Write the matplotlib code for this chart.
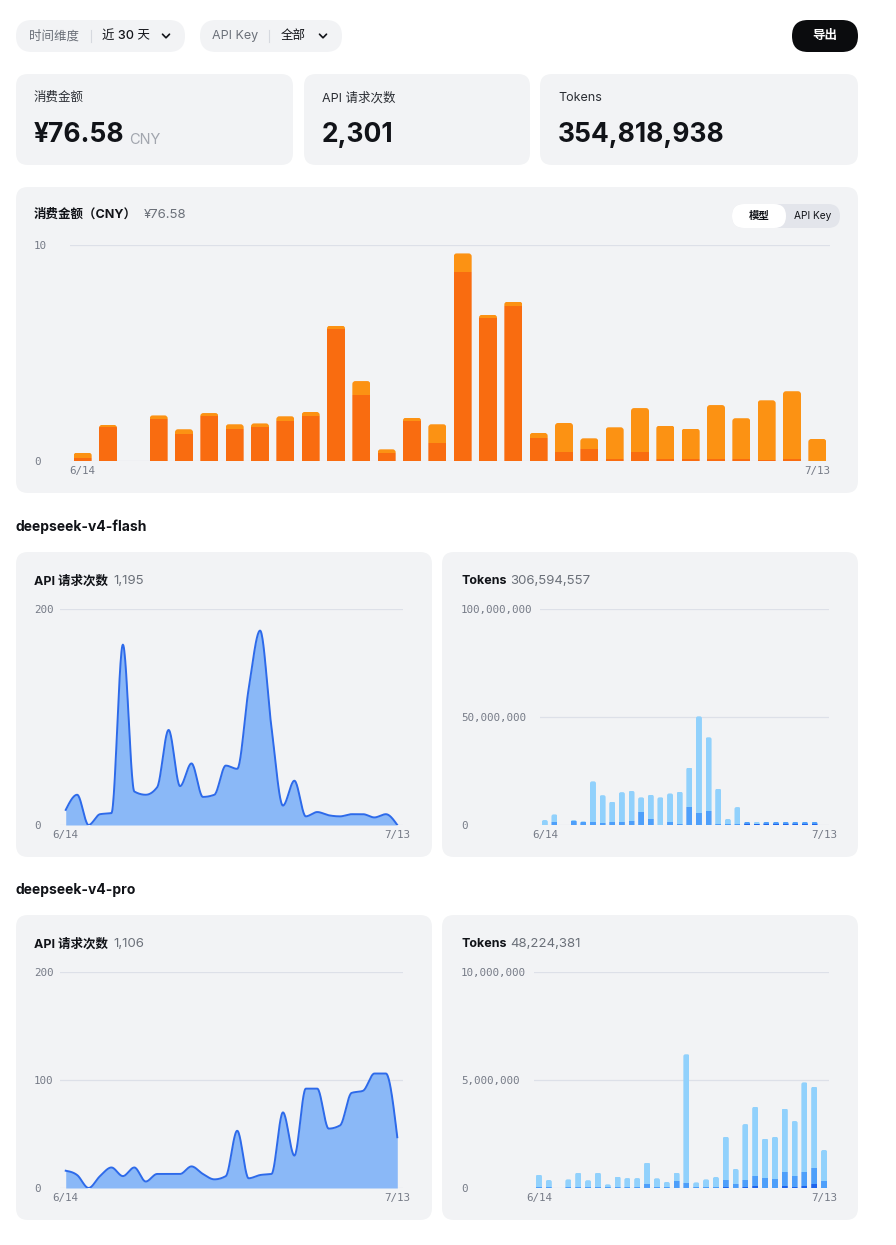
import matplotlib
matplotlib.use("Agg")
import matplotlib.pyplot as plt
import numpy as np
from matplotlib.patches import FancyBboxPatch

# -- data ---------------------------------------------------------------------
days = ["6/14", "6/15", "6/16", "6/17", "6/18", "6/19", "6/20", "6/21", "6/22",
        "6/23", "6/24", "6/25", "6/26", "6/27", "6/28", "6/29", "6/30", "7/1",
        "7/2", "7/3", "7/4", "7/5", "7/6", "7/7", "7/8", "7/9", "7/10", "7/11",
        "7/12", "7/13"]

# daily cost (CNY) per model
cost_flash = [0.15, 1.56, 0, 1.94, 1.27, 2.08, 1.50, 1.59, 1.87, 2.10, 6.13,
              3.06, 0.39, 1.87, 0.85, 8.77, 6.64, 7.19, 1.08, 0.42, 0.56,
              0.11, 0.42, 0.11, 0.11, 0.11, 0.11, 0.06, 0.11, 0]
cost_pro = [0.24, 0.11, 0, 0.17, 0.20, 0.14, 0.20, 0.15, 0.20, 0.17, 0.14,
            0.64, 0.15, 0.14, 0.85, 0.84, 0.13, 0.19, 0.22, 1.34, 0.49, 1.45,
            2.03, 1.53, 1.39, 2.48, 1.87, 2.75, 3.12, 1.02]

# API requests per day
req_flash = [14, 28, 0, 10, 11, 167, 31, 28, 35, 88, 36, 57, 26, 28, 55, 52,
             126, 180, 90, 18, 41, 8, 12, 9, 8, 10, 10, 7, 10, 0]
req_pro = [16, 12, 0, 11, 19, 11, 19, 6, 13, 13, 13, 20, 13, 8, 11, 53, 9, 12,
           13, 70, 30, 92, 92, 55, 58, 88, 90, 106, 106, 47]

# tokens per day (millions): output / cache miss / cache hit
flash_tok_out = [0] * 21 + [0.5, 0.3, 0.5, 0.5, 0.5, 0.5, 0.5, 0.5, 0]
flash_tok_miss = [0, 1.5, 0, 2.0, 1.5, 1.5, 1.1, 1.5, 1.5, 2.0, 6.2, 2.9, 0.1,
                  1.5, 0.6, 8.5, 5.7, 6.6, 0.6, 0.3, 0.6, 0.9, 0.3, 0.9, 0.9,
                  0.9, 0.9, 0.9, 0.9, 0]
flash_tok_hit = [2.3, 3.4, 0, 0.3, 0.2, 18.7, 12.7, 9.3, 13.7, 13.8, 6.6, 11.1,
                 12.7, 13.1, 14.8, 18.1, 44.6, 34.0, 16.2, 2.5, 7.7, 0.1, 0.9,
                 0.1, 0.1, 0.1, 0.1, 0.1, 0.1, 0]
pro_tok_out = [0] * 19 + [0.03, 0, 0.05, 0.10, 0.02, 0.02, 0.10, 0.03, 0.10,
                          0.17, 0.02]
pro_tok_miss = [0.05, 0.05, 0, 0.05, 0.05, 0.05, 0.05, 0.05, 0.05, 0.05, 0.05,
                0.20, 0.05, 0.05, 0.31, 0.22, 0.05, 0.05, 0.05, 0.36, 0.17,
                0.34, 0.47, 0.43, 0.39, 0.63, 0.52, 0.66, 0.74, 0.31]
pro_tok_hit = [0.57, 0.32, 0, 0.35, 0.66, 0.31, 0.66, 0.12, 0.48, 0.41, 0.41,
               0.98, 0.40, 0.23, 0.40, 5.97, 0.21, 0.35, 0.46, 1.98, 0.71,
               2.57, 3.19, 1.84, 1.96, 2.95, 2.55, 4.13, 3.78, 1.43]

total_cost = "¥76.58"
total_requests = "2,301"
total_tokens = "354,818,938"
flash_requests = "1,195"
flash_tokens = "306,594,557"
pro_requests = "1,106"
pro_tokens = "48,224,381"

# -- style --------------------------------------------------------------------
W, H = 896, 1245
FONT = ["Inter", "Noto Sans CJK SC", "DejaVu Sans"]
MONO = ["DejaVu Sans Mono"]
PANEL = "#F2F3F5"
DARK = "#111318"
GRAY = "#6B7079"
TICK = "#767B87"
GRID = "#DDE0E8"
ORANGE_DARK = "#F96C10"
ORANGE_LIGHT = "#FC9213"
BLUE_LINE = "#2D6AEA"
BLUE_FILL = "#8AB8F7"
TOK_OUT = "#1F64EC"
TOK_MISS = "#4E9FFA"
TOK_HIT = "#91D1FC"

plt.rcParams["font.family"] = FONT

fig = plt.figure(figsize=(W / 100, H / 100), dpi=100)
fig.patch.set_facecolor("white")
bg = fig.add_axes([0, 0, 1, 1])
bg.set_xlim(0, W)
bg.set_ylim(H, 0)
bg.axis("off")


def panel(x0, y0, x1, y1, color=PANEL, r=12):
    bg.add_patch(FancyBboxPatch((x0, y0), x1 - x0, y1 - y0,
                                boxstyle=f"round,pad=0,rounding_size={r}",
                                fc=color, ec="none"))


def chevron(x, y, color=DARK):
    bg.plot([x - 3.5, x, x + 3.5], [y - 1.8, y + 1.8, y - 1.8], color=color,
            lw=1.2, solid_capstyle="round", solid_joinstyle="round")


def title_pair(x, y, bold, light, size_b, size_l, gap=4):
    t = bg.text(x, y, bold, fontsize=size_b, fontweight="bold", color=DARK,
                va="center", ha="left")
    bg.annotate(light, xy=(1, 0), xycoords=t, xytext=(gap, 0),
                textcoords="offset points", fontsize=size_l, color=GRAY,
                va="bottom", ha="left")


def chart_axes(x0, x1, ytop, ybot, ymax, ticks, labels, label_x):
    ax = fig.add_axes([x0 / W, 1 - ybot / H, (x1 - x0) / W, (ybot - ytop) / H])
    ax.set_facecolor("none")
    ax.set_xlim(-0.5, len(days) - 0.5)
    ax.set_ylim(0, ymax)
    for s in ax.spines.values():
        s.set_visible(False)
    ax.set_yticks(ticks, labels)
    ax.set_xticks([0, len(days) - 1], [days[0], days[-1]])
    ax.tick_params(axis="y", length=0, pad=(x0 - label_x) * 0.72,
                   labelcolor=TICK, labelsize=7.8)
    ax.tick_params(axis="x", length=0, pad=3.5, labelcolor=TICK,
                   labelsize=7.8)
    for lab in ax.get_yticklabels():
        lab.set_ha("left")
        lab.set_family(MONO)
    for lab in ax.get_xticklabels():
        lab.set_family(MONO)
    ax.yaxis.grid(True, color=GRID, lw=0.9)
    ax.set_axisbelow(True)
    # data units per pixel, used to keep bar corners circular
    ax.px_x = len(days) / (x1 - x0)
    ax.px_y = ymax / (ybot - ytop)
    return ax


def monotone_curve(values, n=24):
    # d3 curveMonotoneX style tangents, cubic Hermite between samples
    y = np.asarray(values, dtype=float)
    s = np.diff(y)
    t = np.zeros_like(y)
    for i in range(1, len(y) - 1):
        s0, s1 = s[i - 1], s[i]
        p = (s0 + s1) / 2
        t[i] = (np.sign(s0) + np.sign(s1)) * min(abs(s0), abs(s1), 0.5 * abs(p))
    t[0] = (3 * s[0] - t[1]) / 2
    t[-1] = (3 * s[-1] - t[-2]) / 2
    xs, ys = [], []
    u = np.linspace(0, 1, n, endpoint=False)
    for i in range(len(y) - 1):
        h00 = 2 * u**3 - 3 * u**2 + 1
        h10 = u**3 - 2 * u**2 + u
        h01 = -2 * u**3 + 3 * u**2
        h11 = u**3 - u**2
        xs.append(i + u)
        ys.append(h00 * y[i] + h10 * t[i] + h01 * y[i + 1] + h11 * t[i + 1])
    xs.append([len(y) - 1])
    ys.append([y[-1]])
    return np.concatenate(xs), np.clip(np.concatenate(ys), 0, None)


def stacked_bars(ax, layers, colors, width, scale=1.0, radius_px=2.5):
    x = np.arange(len(days))
    bottom = np.zeros(len(days))
    rects = []
    for vals, c in zip(layers, colors):
        v = np.asarray(vals, dtype=float) * scale
        bars = ax.bar(x, v, width=width, bottom=bottom, color=c, linewidth=0,
                      zorder=2)
        rects.append(bars)
        bottom += v
    # round the top corners: clip every segment to a rounded bar outline
    r = radius_px * ax.px_x
    aspect = ax.px_y / ax.px_x
    extra = 10 * radius_px * ax.px_y
    for i, total in enumerate(bottom):
        if total <= 0:
            continue
        shape = FancyBboxPatch((x[i] - width / 2, -extra), width,
                               total + extra,
                               boxstyle=f"round,pad=0,rounding_size={r}",
                               mutation_aspect=aspect,
                               transform=ax.transData)
        for bars in rects:
            bars[i].set_clip_path(shape)


# -- filter bar ---------------------------------------------------------------
panel(16, 20, 185, 52, r=16)
bg.text(29, 36, "时间维度", fontsize=9, color=GRAY, va="center")
bg.plot([91, 91], [30, 42], color="#D6D9DF", lw=0.8)
bg.text(102, 36, "近 30 天", fontsize=9, color=DARK, va="center",
        fontweight="medium")
chevron(166, 36)

panel(200, 20, 342, 52, r=16)
bg.text(212, 36, "API Key", fontsize=9, color=GRAY, va="center")
bg.plot([269, 269], [30, 42], color="#D6D9DF", lw=0.8)
bg.text(281, 36, "全部", fontsize=9, color=DARK, va="center",
        fontweight="medium")
chevron(323, 36)

panel(792, 20, 858, 52, color="#0B0C0E", r=16)
bg.text(825, 36, "导出", fontsize=9, color="white", va="center", ha="center",
        fontweight="bold")

# -- stat cards ---------------------------------------------------------------
for (x0, x1, label, value) in [(16, 293, "消费金额", total_cost),
                               (304, 530, "API 请求次数", total_requests),
                               (540, 858, "Tokens", total_tokens)]:
    panel(x0, 74, x1, 165)
    bg.text(x0 + 18, 98, label, fontsize=9, color="#2A2D33", va="center")
    t = bg.text(x0 + 18, 135, value, fontsize=19, fontweight="bold",
                color=DARK, va="center")
    if label == "消费金额":
        bg.annotate("CNY", xy=(1, 0), xycoords=t, xytext=(3, 1),
                    textcoords="offset points", fontsize=10.5,
                    color="#A2A6AE", va="bottom")

# -- cost chart ---------------------------------------------------------------
panel(16, 187, 858, 493)
title_pair(34, 215, "消费金额（CNY）", total_cost, 9, 9.5, gap=5)
panel(732, 204, 840, 228, color="#E3E5EB", r=12)
panel(732, 204, 786, 228, color="white", r=12)
bg.text(759, 216, "模型", fontsize=7.5, fontweight="bold", color=DARK,
        ha="center", va="center")
bg.text(813, 216, "API Key", fontsize=7.3, color=DARK, ha="center",
        va="center")

ax = chart_axes(70, 830, 245, 461, 10, [0, 10], ["0", "10"], 34)
stacked_bars(ax, [cost_flash, cost_pro], [ORANGE_DARK, ORANGE_LIGHT], 0.71,
             radius_px=3)

# -- per model sections -------------------------------------------------------
sections = [
    ("deepseek-v4-flash", 527, 552, req_flash, flash_requests,
     [flash_tok_out, flash_tok_miss, flash_tok_hit], flash_tokens,
     [0, 200], ["0", "200"],
     [0, 50e6, 100e6], ["0", "50,000,000", "100,000,000"], 100e6, 540),
    ("deepseek-v4-pro", 890, 915, req_pro, pro_requests,
     [pro_tok_out, pro_tok_miss, pro_tok_hit], pro_tokens,
     [0, 100, 200], ["0", "100", "200"],
     [0, 5e6, 10e6], ["0", "5,000,000", "10,000,000"], 10e6, 534),
]

for (name, head_y, top, reqs, req_total, tok_layers, tok_total,
     rticks, rlabels, tticks, tlabels, tmax, tx0) in sections:
    bg.text(16, head_y, name, fontsize=10, fontweight="bold", color=DARK,
            va="center")
    bot = top + 305
    ytop = top + 57
    ybot = top + 273

    panel(16, top, 432, bot)
    title_pair(34, top + 29, "API 请求次数", req_total, 9, 9.5)
    axl = chart_axes(60, 403, ytop, ybot, 200, rticks, rlabels, 34)
    cx, cy = monotone_curve(reqs)
    axl.fill_between(cx, cy, 0, color=BLUE_FILL, lw=0, zorder=2)
    axl.plot(cx, cy, color=BLUE_LINE, lw=1.4, zorder=3)

    panel(442, top, 858, bot)
    title_pair(461, top + 29, "Tokens", tok_total, 9, 9.5, gap=3)
    axr = chart_axes(tx0, 829, ytop, ybot, tmax, tticks, tlabels, 461)
    stacked_bars(axr, tok_layers, [TOK_OUT, TOK_MISS, TOK_HIT], 0.62,
                 scale=1e6, radius_px=2)

fig.savefig("out.png", dpi=100, facecolor="white")
